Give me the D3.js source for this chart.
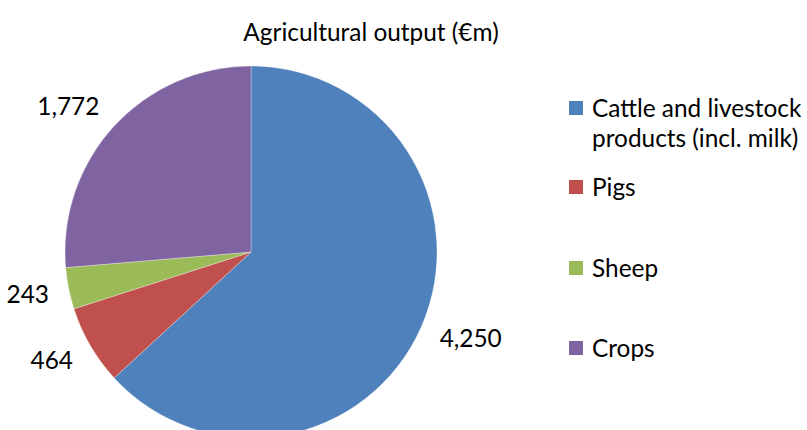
<!DOCTYPE html>
<html>
<head>
<meta charset="utf-8">
<script src="https://cdn.jsdelivr.net/npm/d3@7"></script>
<style>
  body { margin: 0; background: #fff; }
  text { font-family: Lato, "Open Sans", sans-serif; fill: #000; }
</style>
</head>
<body>
<script>
    var width = 807;
    var height = 430;

    // data
    var categories = ["Cattle and livestock products (incl. milk)", "Pigs", "Sheep", "Crops"];
    var legendLines = [["Cattle and livestock", "products (incl. milk)"], ["Pigs"], ["Sheep"], ["Crops"]];
    var values = [4250, 464, 243, 1772];
    var colours = ["#4F81BD", "#C0504D", "#9BBB59", "#8064A2"];
    var title = "Agricultural output (€m)";

    var fontSize = 24.4;
    var cx = 251, cy = 252, radius = 186;

    var svg = d3.select("body").append("svg")
      .attr("width", width)
      .attr("height", height);

    svg.append("text")
      .attr("x", 371)
      .attr("y", 41)
      .attr("text-anchor", "middle")
      .style("font-size", fontSize + "px")
      .text(title);

    var pie = d3.pie().sort(null).value(function(d){ return d; });
    var arcs = pie(values);

    var arc = d3.arc().innerRadius(0).outerRadius(radius);

    var g = svg.append("g").attr("transform", "translate(" + cx + "," + cy + ")");

    g.selectAll("path")
      .data(arcs)
      .enter()
      .append("path")
      .attr("d", arc)
      .attr("fill", function(d, i){ return colours[i]; })
      .attr("stroke", "rgba(255,255,255,0.5)")
      .attr("stroke-width", 0.6);

    // outside end labels, pushed out from a point just past the rim
    var fmt = d3.format(",");
    var gap = 20;
    g.selectAll("text.lbl")
      .data(arcs)
      .enter()
      .append("text")
      .attr("class", "lbl")
      .attr("text-anchor", "middle")
      .attr("dy", "0.35em")
      .style("font-size", fontSize + "px")
      .text(function(d){ return fmt(d.value); })
      .each(function(d){
        var a = (d.startAngle + d.endAngle) / 2;
        var w = this.getComputedTextLength();
        var h = fontSize * 0.8;
        var s = Math.sin(a), c = -Math.cos(a);
        var x = (radius + gap) * s + Math.sign(s) * w / 2;
        var y = (radius + gap) * c + c * h / 2;
        d3.select(this).attr("x", x).attr("y", y);
      });

    // legend
    var legendY = [108, 187, 268, 348];
    var legend = svg.selectAll("g.legend")
      .data(categories)
      .enter()
      .append("g")
      .attr("class", "legend")
      .attr("transform", function(d, i){ return "translate(569," + legendY[i] + ")"; });

    legend.append("rect")
      .attr("x", 0)
      .attr("y", -7)
      .attr("width", 14)
      .attr("height", 14)
      .attr("fill", function(d, i){ return colours[i]; });

    legend.append("text")
      .attr("x", 23)
      .style("font-size", fontSize + "px")
      .each(function(d, i){
        var t = d3.select(this);
        legendLines[i].forEach(function(line, j){
          t.append("tspan")
            .attr("x", 23)
            .attr("y", j * 30)
            .attr("dy", "0.35em")
            .text(line);
        });
      });
</script>
</body>
</html>
